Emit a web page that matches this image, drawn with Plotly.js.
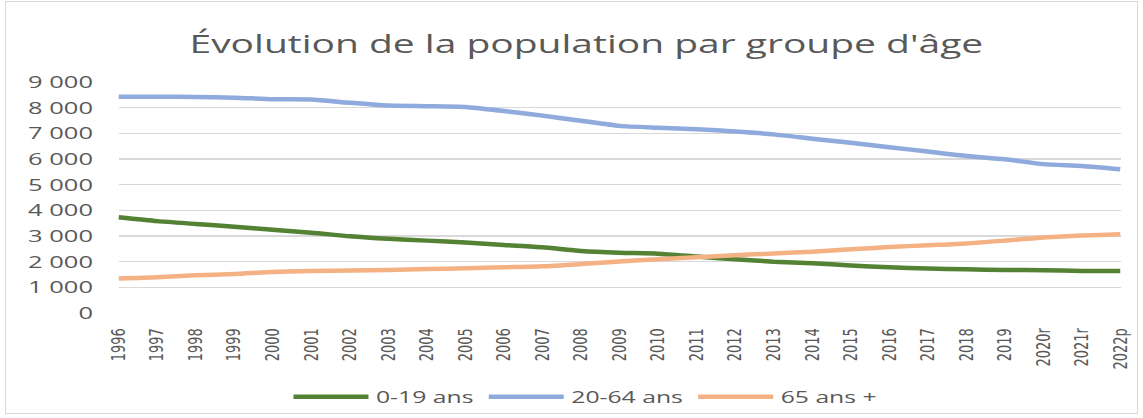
<!DOCTYPE html>
<html>
<head>
<meta charset="utf-8">
<script src="https://cdn.plot.ly/plotly-3.0.1.min.js"></script>
<style>
  html, body { margin: 0; padding: 0; background: #ffffff; overflow: hidden; }
  #wrap { position: relative; width: 1143px; height: 418px; overflow: hidden; }
  #frame { position: absolute; left: 5px; top: 1px; width: 1133px; height: 413px; border: 1px solid #d9d9d9; box-sizing: border-box; pointer-events: none; }
  #chart { position: absolute; left: 0; top: 0; width: 762px; height: 418px; transform: scaleX(1.5); transform-origin: 0 0; }
</style>
</head>
<body>
<div id="wrap">
  <div id="chart"></div>
  <div id="frame"></div>
</div>
<script>
const years = ['1996','1997','1998','1999','2000','2001','2002','2003','2004','2005','2006','2007','2008','2009','2010','2011','2012','2013','2014','2015','2016','2017','2018','2019','2020r','2021r','2022p'];
const age0_19 = [3730, 3580, 3470, 3360, 3240, 3130, 2990, 2890, 2820, 2750, 2650, 2560, 2420, 2350, 2310, 2200, 2090, 2000, 1940, 1850, 1780, 1730, 1700, 1680, 1670, 1640, 1640];
const age20_64 = [8430, 8430, 8420, 8390, 8330, 8320, 8190, 8080, 8060, 8030, 7870, 7690, 7490, 7290, 7220, 7160, 7070, 6960, 6790, 6630, 6460, 6290, 6120, 5990, 5800, 5730, 5600];
const age65 = [1340, 1390, 1470, 1520, 1600, 1640, 1660, 1680, 1710, 1740, 1780, 1820, 1910, 2010, 2090, 2170, 2250, 2320, 2390, 2480, 2570, 2640, 2710, 2820, 2940, 3020, 3070];
const seriesNames = ['0-19 ans', '20-64 ans', '65 ans +'];
const seriesColors = ['#548235', '#8faadc', '#f4b183'];
const seriesValues = [age0_19, age20_64, age65];
const yTicks = [0, 1000, 2000, 3000, 4000, 5000, 6000, 7000, 8000, 9000];

const textColor = '#595959';
const traces = seriesValues.map((vals, i) => ({
  type: 'scatter',
  mode: 'lines',
  x: years,
  y: vals,
  name: seriesNames[i],
  line: { color: seriesColors[i], width: 4.5, shape: 'spline', smoothing: 0.6 },
  hoverinfo: 'skip'
}));

const layout = {
  width: 762,
  height: 418,
  margin: { l: 79.3, r: 14.7, t: 82, b: 105, autoexpand: false },
  paper_bgcolor: '#ffffff',
  plot_bgcolor: '#ffffff',
  separators: ', ',
  font: { family: 'Open Sans, sans-serif', color: textColor },
  title: {
    text: 'Évolution de la population par groupe d\'âge',
    font: { family: 'Open Sans, sans-serif', size: 26, color: textColor },
    x: 0.513, xref: 'container', xanchor: 'center',
    y: 1 - 44 / 418, yref: 'container', yanchor: 'middle'
  },
  xaxis: {
    type: 'category',
    showgrid: false,
    showline: false,
    zeroline: false,
    ticks: 'outside',
    ticklen: 9,
    tickcolor: 'rgba(0,0,0,0)',
    tickangle: -90,
    automargin: false,
    tickfont: { family: 'DejaVu Sans, sans-serif', size: 13, color: textColor },
    fixedrange: true
  },
  yaxis: {
    range: [0, 9000],
    tickvals: yTicks,
    tickformat: ',d',
    showgrid: true,
    gridcolor: '#d9d9d9',
    gridwidth: 1.5,
    zeroline: false,
    showline: false,
    ticks: '',
    automargin: false,
    tickfont: { family: 'Open Sans, sans-serif', size: 17, color: textColor },
    ticklabelstandoff: 16,
    fixedrange: true
  },
  showlegend: true,
  legend: {
    orientation: 'h',
    xref: 'container', yref: 'container',
    x: 0.512, xanchor: 'center',
    y: 21 / 418, yanchor: 'middle',
    font: { family: 'Open Sans, sans-serif', size: 16.5, color: textColor },
    itemwidth: 50,
    traceorder: 'normal'
  }
};

Plotly.newPlot('chart', traces, layout, { displayModeBar: false, staticPlot: true, responsive: false });
</script>
</body>
</html>
